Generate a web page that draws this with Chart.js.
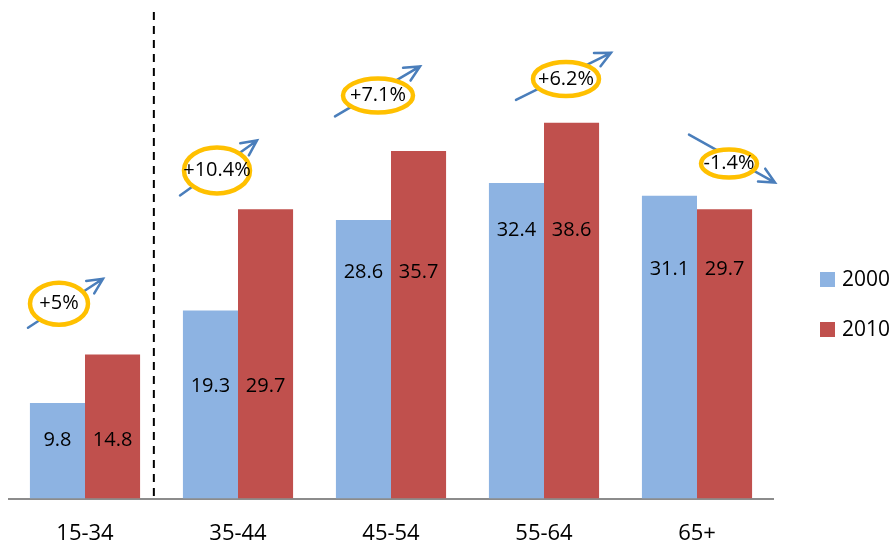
<!DOCTYPE html>
<html>
<head>
<meta charset="utf-8">
<script src="https://cdn.jsdelivr.net/npm/chart.js@4.4.1/dist/chart.umd.min.js"></script>
<style>
  html, body { margin: 0; padding: 0; background: #fff; }
  #wrap { width: 896px; height: 546px; }
</style>
</head>
<body>
<div id="wrap"><canvas id="chart"></canvas></div>
<script>
const categories = ['15-34', '35-44', '45-54', '55-64', '65+'];
const seriesNames = ['2000', '2010'];
const values2000 = [9.8, 19.3, 28.6, 32.4, 31.1];
const values2010 = [14.8, 29.7, 35.7, 38.6, 29.7];
const changeLabels = ['+5%', '+10.4%', '+7.1%', '+6.2%', '-1.4%'];

const colors = ['#8DB3E2', '#C0504D'];
const FONT = '"Open Sans", "Liberation Sans", sans-serif';

// height (in axis units) where the value labels of each group sit
const labelLevels = [6, 11.5, 23.2, 27.5, 23.5];

// callout bubbles: centre offset from group centre (px), centre height (axis units),
// ellipse radii, and arrow start/tip relative to the bubble centre
const callouts = [
  { dx: -26, at: 20.0, rx: 29, ry: 21, from: [-31, 24], to: [44, -25] },
  { dx: -21, at: 33.7, rx: 33, ry: 23, from: [-37, 25], to: [40, -30] },
  { dx: -13, at: 41.4, rx: 35, ry: 17, from: [-43, 21], to: [42, -29] },
  { dx: 22,  at: 43.1, rx: 33, ry: 17, from: [-50, 21], to: [45, -26] },
  { dx: 32,  at: 34.4, rx: 28, ry: 14, from: [-40, -29], to: [46, 19] }
];

function drawArrow(ctx, x1, y1, x2, y2) {
  const ang = Math.atan2(y2 - y1, x2 - x1);
  const head = 17;
  ctx.save();
  ctx.strokeStyle = '#4A7EBB';
  ctx.lineWidth = 2.5;
  ctx.lineCap = 'round';
  ctx.beginPath();
  ctx.moveTo(x1, y1);
  ctx.lineTo(x2, y2);
  ctx.moveTo(x2 - head * Math.cos(ang - 0.45), y2 - head * Math.sin(ang - 0.45));
  ctx.lineTo(x2, y2);
  ctx.lineTo(x2 - head * Math.cos(ang + 0.45), y2 - head * Math.sin(ang + 0.45));
  ctx.stroke();
  ctx.restore();
}

const extras = {
  id: 'extras',
  afterDatasetsDraw(chart) {
    const ctx = chart.ctx;
    const x = chart.scales.x;
    const y = chart.scales.y;

    // value labels inside the bars
    ctx.save();
    ctx.fillStyle = '#000';
    ctx.font = '20px ' + FONT;
    ctx.textAlign = 'center';
    ctx.textBaseline = 'middle';
    chart.data.datasets.forEach((ds, di) => {
      chart.getDatasetMeta(di).data.forEach((bar, i) => {
        ctx.fillText(ds.data[i].toFixed(1), bar.x, y.getPixelForValue(labelLevels[i]));
      });
    });
    ctx.restore();

    // dashed separator after the first group
    const sx = x.getPixelForValue(0.45);
    ctx.save();
    ctx.strokeStyle = '#000';
    ctx.lineWidth = 2;
    ctx.setLineDash([8, 6]);
    ctx.beginPath();
    ctx.moveTo(sx, 12);
    ctx.lineTo(sx, y.bottom);
    ctx.stroke();
    ctx.restore();

    // change callouts
    callouts.forEach((c, i) => {
      const cx = x.getPixelForValue(i) + c.dx;
      const cy = y.getPixelForValue(c.at);
      drawArrow(ctx, cx + c.from[0], cy + c.from[1], cx + c.to[0], cy + c.to[1]);
      ctx.save();
      ctx.beginPath();
      ctx.ellipse(cx, cy, c.rx, c.ry, 0, 0, Math.PI * 2);
      ctx.fillStyle = '#fff';
      ctx.fill();
      ctx.lineWidth = 4.5;
      ctx.strokeStyle = '#FFC000';
      ctx.stroke();
      ctx.fillStyle = '#000';
      ctx.font = '20px ' + FONT;
      ctx.textAlign = 'center';
      ctx.textBaseline = 'middle';
      ctx.fillText(changeLabels[i], cx, cy);
      ctx.restore();
    });

    // legend
    ctx.save();
    ctx.font = '21px ' + FONT;
    ctx.textBaseline = 'middle';
    chart.data.datasets.forEach((ds, di) => {
      const ly = 272 + di * 50;
      ctx.fillStyle = ds.backgroundColor;
      ctx.fillRect(820, ly, 15, 15);
      ctx.fillStyle = '#000';
      ctx.fillText(ds.label, 842, ly + 8);
    });
    ctx.restore();
  }
};

new Chart(document.getElementById('chart'), {
  type: 'bar',
  data: {
    labels: categories,
    datasets: [
      { label: seriesNames[0], data: values2000, backgroundColor: colors[0] },
      { label: seriesNames[1], data: values2010, backgroundColor: colors[1] }
    ]
  },
  options: {
    responsive: true,
    maintainAspectRatio: false,
    animation: false,
    layout: { padding: { left: 8.5, right: 122.5, top: 11.7, bottom: 0 } },
    datasets: {
      bar: { categoryPercentage: 0.72, barPercentage: 1.0 }
    },
    scales: {
      x: {
        grid: { display: false, drawTicks: false },
        border: { display: true, color: '#8C8C8C', width: 2 },
        ticks: { color: '#000', font: { family: FONT, size: 22 }, padding: 22.5 },
        afterFit(scale) { scale.height = 47.5; }
      },
      y: {
        display: false,
        min: 0,
        max: 50
      }
    },
    plugins: {
      legend: { display: false },
      tooltip: { enabled: false }
    }
  },
  plugins: [extras]
});
</script>
</body>
</html>
